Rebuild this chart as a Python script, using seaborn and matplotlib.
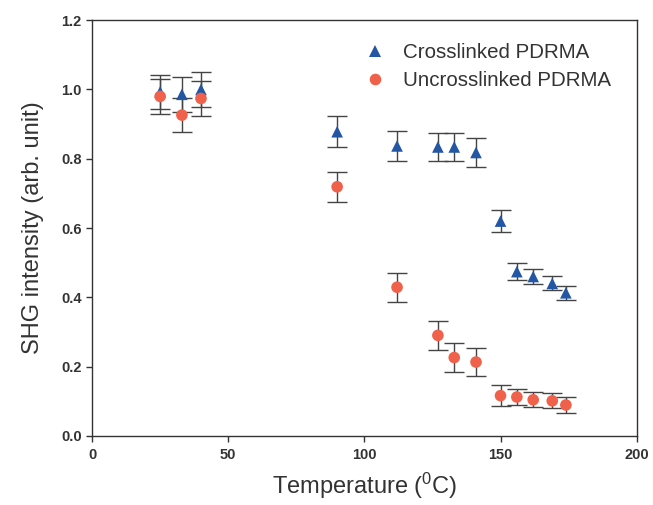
import matplotlib
matplotlib.use("Agg")
import matplotlib.pyplot as plt
import seaborn as sns
import pandas as pd

temps = [25, 33, 40, 90, 112, 127, 133, 141, 150, 156, 162, 169, 174]
cross = [0.993, 0.986, 1.0, 0.878, 0.837, 0.834, 0.834, 0.818, 0.620, 0.474, 0.460, 0.440, 0.413]
cross_err = [0.05, 0.05, 0.05, 0.044, 0.043, 0.041, 0.041, 0.041, 0.031, 0.025, 0.023, 0.020, 0.021]
uncross = [0.98, 0.926, 0.974, 0.719, 0.429, 0.290, 0.226, 0.213, 0.116, 0.112, 0.104, 0.101, 0.089]
uncross_err = [0.05, 0.048, 0.05, 0.044, 0.042, 0.042, 0.043, 0.041, 0.031, 0.024, 0.022, 0.022, 0.023]

labels = ['Crosslinked PDRMA', 'Uncrosslinked PDRMA']
colors = ['#2356a3', '#f0614b']

sns.set_style("ticks")
plt.rcParams['font.family'] = ['Liberation Sans', 'DejaVu Sans']
plt.rcParams['mathtext.default'] = 'regular'

df = pd.DataFrame({
    'temp': temps * 2,
    'shg': cross + uncross,
    'err': cross_err + uncross_err,
    'sample': [labels[0]] * len(temps) + [labels[1]] * len(temps),
})

fig = plt.figure(figsize=(6.53, 5.05), dpi=100)
ax = fig.add_axes([0.141, 0.137, 0.834, 0.823])

for lab in labels:
    sub = df[df['sample'] == lab]
    ax.errorbar(sub['temp'], sub['shg'], yerr=sub['err'], fmt='none',
                ecolor='#444444', elinewidth=1.0, capsize=7, capthick=1.0, zorder=1)

sns.scatterplot(data=df, x='temp', y='shg', hue='sample', style='sample',
                markers={labels[0]: '^', labels[1]: 'o'},
                palette=dict(zip(labels, colors)), s=70, linewidth=0,
                ax=ax, zorder=2)

ax.set_xlim(0, 200)
ax.set_ylim(0, 1.2)
ax.set_xticks([0, 50, 100, 150, 200])
ax.set_yticks([0.0, 0.2, 0.4, 0.6, 0.8, 1.0, 1.2])
ax.set_yticklabels(['0.0', '0.2', '0.4', '0.6', '0.8', '1.0', '1.2'])
ax.tick_params(direction='out', length=4, width=1, labelsize=10.5, color='#333333')
ax.tick_params(axis='x', pad=5)
for t in ax.get_xticklabels() + ax.get_yticklabels():
    t.set_fontweight('bold')
    t.set_color('#333333')
for sp in ax.spines.values():
    sp.set_visible(True)
    sp.set_linewidth(1.0)
    sp.set_color('#333333')

ax.set_xlabel('Temperature ($^0$C)', fontsize=17, color='#333333', labelpad=6)
ax.set_ylabel('SHG intensity (arb. unit)', fontsize=17, color='#333333', labelpad=12)

leg = ax.legend(loc='upper left', frameon=False, fontsize=14.8, title=None,
                handletextpad=0.35, bbox_to_anchor=(0.448, 0.99), labelspacing=0.45,
                markerscale=1.0)
for txt in leg.get_texts():
    txt.set_color('#333333')

fig.savefig('out.png', dpi=100)
